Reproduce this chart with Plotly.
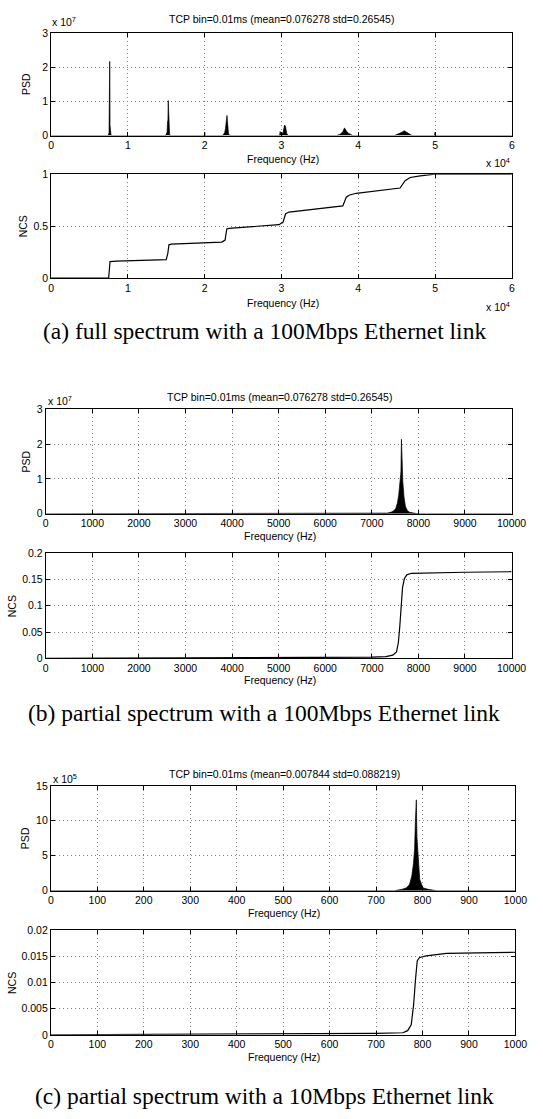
import plotly.graph_objects as go

W, H = 543, 1119

# ---------------- data ----------------
# (a) full spectrum, 100Mbps
psd_a_freq = [0, 7400, 7540, 7570, 7600, 7625, 7650, 7670, 7720, 7800,
              14900, 15100, 15160, 15210, 15250, 15300, 15350, 15420, 15500,
              19950, 20000, 20050,
              22300, 22600, 22700, 22780, 22850, 22900, 22950, 23000, 23100, 23300,
              29750, 29830, 29900, 30200, 30300, 30400, 30500, 30600, 30700, 30900,
              37200, 37700, 38000, 38100, 38200, 38300, 38400, 38700, 39300,
              44700, 45300, 45700, 45900, 46000, 46200, 46500, 47000,
              49950, 50000, 50050, 60000]
psd_a_val = [0, 0, 0.08e7, 0.7e7, 1.5e7, 2.18e7, 1.6e7, 0.3e7, 0.05e7, 0,
             0, 0.1e7, 0.42e7, 0.45e7, 1.03e7, 0.6e7, 0.2e7, 0.05e7, 0,
             0, 0.1e7, 0,
             0, 0.08e7, 0.2e7, 0.37e7, 0.4e7, 0.59e7, 0.45e7, 0.15e7, 0.05e7, 0,
             0, 0.12e7, 0.05e7, 0.08e7, 0.22e7, 0.31e7, 0.28e7, 0.12e7, 0.05e7, 0,
             0, 0.05e7, 0.12e7, 0.18e7, 0.22e7, 0.2e7, 0.15e7, 0.07e7, 0,
             0, 0.05e7, 0.1e7, 0.13e7, 0.14e7, 0.11e7, 0.06e7, 0,
             0, 0.1e7, 0, 0]

ncs_a_freq = [0, 7490, 7600, 7670, 8500, 14990, 15200, 15340, 15650, 22220, 22650,
              22870, 23180, 29670, 30190, 30540, 30980, 37990, 38430, 38870, 39740,
              45440, 46100, 46760, 48070, 49950, 60000]
ncs_a_val = [0, 0, 0.1, 0.159, 0.163, 0.178, 0.24, 0.32, 0.327, 0.346, 0.365,
             0.473, 0.479, 0.514, 0.537, 0.619, 0.635, 0.695, 0.778, 0.8, 0.816,
             0.867, 0.937, 0.968, 0.984, 1.0, 1.0]

# (b) partial spectrum, 100Mbps
psd_b_freq = [0, 7300, 7336, 7420, 7465, 7514, 7550, 7578, 7606, 7625, 7636,
              7648, 7665, 7690, 7720, 7760, 7800, 7900, 8000, 10000]
psd_b_val = [0, 0, 0.02e7, 0.05e7, 0.08e7, 0.15e7, 0.31e7, 0.55e7, 0.98e7, 1.2e7,
             2.14e7, 1.2e7, 0.93e7, 0.5e7, 0.22e7, 0.1e7, 0.05e7, 0.02e7, 0, 0]

ncs_b_freq = [0, 6000, 7000, 7300, 7450, 7530, 7570, 7600, 7630, 7660, 7700,
              7750, 7850, 8200, 9000, 10000]
ncs_b_val = [0, 0.001, 0.002, 0.003, 0.006, 0.012, 0.03, 0.06, 0.1, 0.135,
             0.152, 0.159, 0.162, 0.163, 0.164, 0.165]

# (c) partial spectrum, 10Mbps
psd_c_freq = [0, 740, 756, 765, 772, 777, 780.5, 783, 784.7, 786.7, 788, 791,
              794, 801, 812, 830, 1000]
psd_c_val = [0, 0, 0.2e5, 0.4e5, 0.9e5, 2.1e5, 3.9e5, 6e5, 10e5, 13.0e5, 7.7e5,
             3.9e5, 1.6e5, 0.4e5, 0.2e5, 0, 0]

ncs_c_freq = [0, 300, 600, 700, 757.6, 768, 775.7, 780.8, 785, 788.7, 793.7,
              808, 851.7, 1000]
ncs_c_val = [0, 0.0001, 0.0002, 0.0003, 0.0004, 0.0008, 0.0019, 0.0057, 0.0107,
             0.0142, 0.0148, 0.0151, 0.0156, 0.0158]

title_ab = "TCP bin=0.01ms (mean=0.076278 std=0.26545)"
title_c = "TCP bin=0.01ms (mean=0.007844 std=0.088219)"
captions = ["(a) full spectrum with a 100Mbps Ethernet link",
            "(b) partial spectrum with a 100Mbps Ethernet link",
            "(c) partial spectrum with a 10Mbps Ethernet link"]

xt_a_vals = [0, 10000, 20000, 30000, 40000, 50000, 60000]
xt_a_text = ["0", "1", "2", "3", "4", "5", "6"]
xt_b_vals = [0, 1000, 2000, 3000, 4000, 5000, 6000, 7000, 8000, 9000, 10000]
xt_c_vals = [0, 100, 200, 300, 400, 500, 600, 700, 800, 900, 1000]
yt_psd_ab_vals = [0, 1e7, 2e7, 3e7]
yt_psd_ab_text = ["0", "1", "2", "3"]
yt_ncs_a_vals = [0, 0.5, 1]
yt_ncs_a_text = ["0", "0.5", "1"]
yt_ncs_b_vals = [0, 0.05, 0.1, 0.15, 0.2]
yt_ncs_b_text = ["0", "0.05", "0.1", "0.15", "0.2"]
yt_psd_c_vals = [0, 5e5, 10e5, 15e5]
yt_psd_c_text = ["0", "5", "10", "15"]
yt_ncs_c_vals = [0, 0.005, 0.01, 0.015, 0.02]
yt_ncs_c_text = ["0", "0.005", "0.01", "0.015", "0.02"]

# ---------------- layout helpers ----------------
FONT = "Liberation Sans, Arial, Helvetica, sans-serif"
FS = 10.5

# panel pixel boxes: left, right, top, bottom
boxes = [
    (49.8, 526.3, 27.7, 131.0),
    (49.8, 526.3, 170.0, 275.0),
    (44.2, 526.0, 407.7, 513.3),
    (44.2, 526.0, 553.3, 659.3),
    (49.5, 530.0, 788.3, 894.3),
    (49.5, 530.0, 934.3, 1040.0),
]

def px(x):
    return x / W

def py(y):
    return 1 - y / H

fig = go.Figure()

series = [
    (psd_a_freq, psd_a_val, True),
    (ncs_a_freq, ncs_a_val, False),
    (psd_b_freq, psd_b_val, True),
    (ncs_b_freq, ncs_b_val, False),
    (psd_c_freq, psd_c_val, True),
    (ncs_c_freq, ncs_c_val, False),
]

for i, (fx, fy, filled) in enumerate(series):
    n = "" if i == 0 else str(i + 1)
    if filled:
        fig.add_trace(go.Scatter(x=fx, y=fy, mode="lines", fill="tozeroy",
                                 fillcolor="black", line=dict(color="black", width=0.7),
                                 xaxis="x" + n, yaxis="y" + n, showlegend=False,
                                 hoverinfo="skip"))
    else:
        fig.add_trace(go.Scatter(x=fx, y=fy, mode="lines",
                                 line=dict(color="black", width=1.2),
                                 xaxis="x" + n, yaxis="y" + n, showlegend=False,
                                 hoverinfo="skip"))

xcfg = [
    ([0, 60000], xt_a_vals, xt_a_text),
    ([0, 60000], xt_a_vals, xt_a_text),
    ([0, 10000], xt_b_vals, [str(v) for v in xt_b_vals]),
    ([0, 10000], xt_b_vals, [str(v) for v in xt_b_vals]),
    ([0, 1000], xt_c_vals, [str(v) for v in xt_c_vals]),
    ([0, 1000], xt_c_vals, [str(v) for v in xt_c_vals]),
]
ycfg = [
    ([0, 3e7], yt_psd_ab_vals, yt_psd_ab_text),
    ([0, 1], yt_ncs_a_vals, yt_ncs_a_text),
    ([0, 3e7], yt_psd_ab_vals, yt_psd_ab_text),
    ([0, 0.2], yt_ncs_b_vals, yt_ncs_b_text),
    ([0, 15e5], yt_psd_c_vals, yt_psd_c_text),
    ([0, 0.02], yt_ncs_c_vals, yt_ncs_c_text),
]

common = dict(showline=True, linecolor="black", linewidth=1, mirror="ticks",
              ticks="inside", ticklen=4, tickcolor="black", tickwidth=1,
              showgrid=True, gridcolor="#808080", griddash="1px,3px", gridwidth=1,
              zeroline=False, tickfont=dict(family=FONT, size=FS, color="black"),
              fixedrange=True)

layout = dict(width=W, height=H, margin=dict(l=0, r=0, t=0, b=0), autosize=False,
              paper_bgcolor="white", plot_bgcolor="white", showlegend=False)

for i in range(6):
    l, r, t, b = boxes[i]
    n = "" if i == 0 else str(i + 1)
    xr, xv, xtx = xcfg[i]
    yr, yv, ytx = ycfg[i]
    layout["xaxis" + n] = dict(domain=[px(l), px(r)], range=xr, tickvals=xv,
                               ticktext=xtx, anchor="y" + n, **common)
    layout["yaxis" + n] = dict(domain=[py(b), py(t)], range=yr, tickvals=yv,
                               ticktext=ytx, anchor="x" + n, **common)

fig.update_layout(**layout)

ann = []

def text(x, y, s, size=FS, family=FONT, xanchor="center", yanchor="middle", angle=0):
    ann.append(dict(x=px(x), y=py(y), xref="paper", yref="paper", text=s,
                    showarrow=False, xanchor=xanchor, yanchor=yanchor,
                    textangle=angle, font=dict(family=family, size=size, color="black")))

# titles
text(288.4, 13.3, title_ab)
text(286.0, 395.0, title_ab)
text(291.0, 776.7, title_c)
# x labels
for (xx, yy) in [(289.6, 155.0), (289.6, 300.0), (286.0, 535.7), (286.0, 681.7),
                 (291.0, 917.3), (291.0, 1062.7)]:
    text(xx, yy, "Frequency (Hz)")
# y labels
for (xx, yy, s) in [(23.7, 79.0, "PSD"), (20.9, 222.5, "NCS"), (23.7, 460.5, "PSD"),
                    (8.7, 606.3, "NCS"), (22.6, 841.3, "PSD"), (8.7, 987.2, "NCS")]:
    text(xx, yy, s, angle=-90)
# multipliers
text(48.7, 16.0, "x 10<sup>7</sup>", xanchor="left")
text(44.0, 398.3, "x 10<sup>7</sup>", xanchor="left")
text(50.0, 780.7, "x 10<sup>5</sup>", xanchor="left")
text(526.5, 158.3, "x 10<sup>4</sup>", xanchor="right")
text(526.5, 304.0, "x 10<sup>4</sup>", xanchor="right")
# captions
SERIF = "Liberation Serif, Times New Roman, serif"
text(270.0, 328.3, captions[0], size=23.5, family=SERIF)
text(270.0, 715.0, captions[1], size=23.5, family=SERIF)
text(270.0, 1101.7, captions[2], size=23.5, family=SERIF)

fig.update_layout(annotations=ann)

fig.write_html("out.html", config={"responsive": False, "displayModeBar": False},
               post_script="document.body.style.margin='0px';document.body.style.padding='0px';")
